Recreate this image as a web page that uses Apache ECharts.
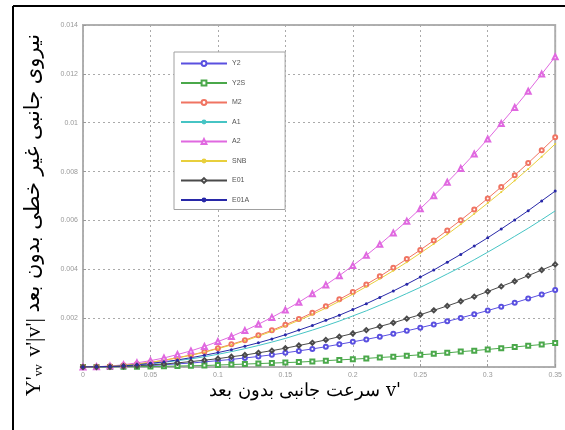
<!DOCTYPE html>
<html>
<head>
<meta charset="utf-8">
<script src="https://cdn.jsdelivr.net/npm/echarts@6/dist/echarts.min.js"></script>
<style>
html, body { margin: 0; padding: 0; background: #fff; }
#chart { width: 565px; height: 430px; }
</style>
</head>
<body>
<div id="chart"></div>
<script>
// سرعت جانبی بدون بعد (v')
var vel = [0, 0.01, 0.02, 0.03, 0.04, 0.05, 0.06, 0.07, 0.08, 0.09, 0.10, 0.11, 0.12,
    0.13, 0.14, 0.15, 0.16, 0.17, 0.18, 0.19, 0.20, 0.21, 0.22, 0.23, 0.24, 0.25,
    0.26, 0.27, 0.28, 0.29, 0.30, 0.31, 0.32, 0.33, 0.34, 0.35];

var Y2 = [0, 0, 0.00001, 0.00002, 0.00004, 0.00006, 0.00009, 0.00013, 0.00016, 0.00021, 0.00026, 0.00031,
    0.00037, 0.00043, 0.00050, 0.00058, 0.00066, 0.00074, 0.00083, 0.00093, 0.00103, 0.00113, 0.00124,
    0.00136, 0.00148, 0.00161, 0.00174, 0.00187, 0.00201, 0.00216, 0.00231, 0.00247, 0.00263, 0.00280,
    0.00297, 0.00315];
var Y2S = [0, 0, 0, 0.00001, 0.00001, 0.00002, 0.00003, 0.00004, 0.00005, 0.00006, 0.00008, 0.00010,
    0.00012, 0.00014, 0.00016, 0.00018, 0.00020, 0.00023, 0.00026, 0.00029, 0.00032, 0.00035, 0.00039,
    0.00042, 0.00046, 0.00050, 0.00054, 0.00058, 0.00063, 0.00067, 0.00072, 0.00077, 0.00082, 0.00087,
    0.00092, 0.00098];
var M2 = [0, 0.00001, 0.00003, 0.00007, 0.00012, 0.00019, 0.00028, 0.00038, 0.00049, 0.00062, 0.00077,
    0.00093, 0.00110, 0.00130, 0.00150, 0.00173, 0.00196, 0.00222, 0.00249, 0.00277, 0.00307, 0.00338,
    0.00371, 0.00406, 0.00442, 0.00479, 0.00518, 0.00559, 0.00601, 0.00645, 0.00690, 0.00737, 0.00785,
    0.00835, 0.00887, 0.00940];
var A1 = [0, 0.00001, 0.00002, 0.00005, 0.00008, 0.00013, 0.00019, 0.00026, 0.00033, 0.00042, 0.00052,
    0.00063, 0.00075, 0.00088, 0.00102, 0.00117, 0.00134, 0.00151, 0.00169, 0.00188, 0.00209, 0.00230,
    0.00253, 0.00276, 0.00301, 0.00326, 0.00353, 0.00381, 0.00409, 0.00439, 0.00470, 0.00502, 0.00535,
    0.00568, 0.00603, 0.00639];
var A2 = [0, 0.00001, 0.00004, 0.00009, 0.00017, 0.00026, 0.00037, 0.00051, 0.00066, 0.00084, 0.00104,
    0.00125, 0.00149, 0.00175, 0.00203, 0.00233, 0.00265, 0.00300, 0.00336, 0.00374, 0.00415, 0.00457,
    0.00502, 0.00549, 0.00597, 0.00648, 0.00701, 0.00756, 0.00813, 0.00872, 0.00933, 0.00997, 0.01062,
    0.01129, 0.01199, 0.01270];
var SNB = [0, 0.00001, 0.00003, 0.00007, 0.00012, 0.00019, 0.00027, 0.00037, 0.00048, 0.00060, 0.00075,
    0.00090, 0.00107, 0.00126, 0.00146, 0.00168, 0.00191, 0.00215, 0.00241, 0.00269, 0.00298, 0.00329,
    0.00361, 0.00394, 0.00429, 0.00466, 0.00504, 0.00543, 0.00584, 0.00627, 0.00671, 0.00716, 0.00763,
    0.00811, 0.00861, 0.00913];
var E01 = [0, 0, 0.00001, 0.00003, 0.00005, 0.00009, 0.00012, 0.00017, 0.00022, 0.00028, 0.00034, 0.00042,
    0.00049, 0.00058, 0.00067, 0.00077, 0.00088, 0.00099, 0.00111, 0.00124, 0.00137, 0.00151, 0.00166,
    0.00181, 0.00198, 0.00214, 0.00232, 0.00250, 0.00269, 0.00288, 0.00309, 0.00330, 0.00351, 0.00374,
    0.00397, 0.00420];
var E01A = [0, 0.00001, 0.00002, 0.00005, 0.00009, 0.00015, 0.00021, 0.00029, 0.00038, 0.00048, 0.00059,
    0.00071, 0.00085, 0.00099, 0.00115, 0.00132, 0.00151, 0.00170, 0.00191, 0.00212, 0.00235, 0.00259,
    0.00285, 0.00311, 0.00339, 0.00368, 0.00397, 0.00429, 0.00461, 0.00495, 0.00529, 0.00565, 0.00602,
    0.00640, 0.00680, 0.00720];

var names = ['Y2', 'Y2S', 'M2', 'A1', 'A2', 'SNB', 'E01', 'E01A'];
var values = [Y2, Y2S, M2, A1, A2, SNB, E01, E01A];
var colors = ['#5a50e0', '#4aa84a', '#f07462', '#46c4c4', '#e068e0', '#e8cf3c', '#4a4a4a', '#2828a8'];
var symbols = ['emptyCircle', 'emptyRect', 'emptyCircle', 'none', 'emptyTriangle', 'circle', 'emptyDiamond', 'circle'];
var symbolSizes = [4, 4, 4, 0, 5, 2, 4, 3];

function pairs(arr) {
    return vel.map(function (v, i) { return [v, arr[i]]; });
}

var seriesList = names.map(function (n, i) {
    return {
        name: n,
        type: 'line',
        data: pairs(values[i]),
        color: colors[i],
        symbol: symbols[i],
        symbolSize: symbolSizes[i],
        showSymbol: symbols[i] !== 'none',
        lineStyle: { width: 1 },
        itemStyle: { borderWidth: 1 },
        animation: false
    };
});

var chart = echarts.init(document.getElementById('chart'));
chart.setOption({
    animation: false,
    grid: {
        left: 83, right: 8, top: 25, bottom: 63,
        show: true, borderColor: '#b0b0b0', borderWidth: 2
    },
    legend: {
        orient: 'vertical',
        left: 174, top: 52,
        data: names,
        itemWidth: 46, itemHeight: 6, itemGap: 12.5,
        padding: [8, 36, 6, 6],
        backgroundColor: '#fff',
        borderColor: '#a0a0a0',
        borderWidth: 1,
        textStyle: { fontSize: 7, color: '#555' }
    },
    xAxis: {
        type: 'value',
        min: 0, max: 0.35, interval: 0.05,
        axisLine: { show: false },
        axisTick: { inside: true, length: 3, lineStyle: { color: '#999' } },
        axisLabel: { fontSize: 7, color: '#999', margin: 5 },
        splitLine: { lineStyle: { color: '#aaa', type: [2, 3] } }
    },
    yAxis: {
        type: 'value',
        min: 0, max: 0.014, interval: 0.002,
        axisLine: { show: false },
        axisTick: { inside: true, length: 3, lineStyle: { color: '#999' } },
        axisLabel: { fontSize: 7, color: '#999', margin: 5, showMinLabel: false },
        splitLine: { lineStyle: { color: '#aaa', type: [2, 3] } }
    },
    graphic: [
        { type: 'line', shape: { x1: 13, y1: 6, x2: 565, y2: 6 }, style: { stroke: '#000', lineWidth: 2 } },
        { type: 'line', shape: { x1: 13, y1: 6, x2: 13, y2: 430 }, style: { stroke: '#000', lineWidth: 2 } },
        {
            type: 'text', x: 305, y: 391,
            style: {
                text: "سرعت جانبی بدون بعد v'",
                font: '18px "DejaVu Serif", serif',
                fill: '#000', align: 'center', verticalAlign: 'middle'
            }
        },
        {
            type: 'text', x: 34, y: 215, rotation: Math.PI / 2,
            style: {
                text: "{f|Y'}{s|vv}{f| v'|v'| }{p|نیروی جانبی غیر خطی بدون بعد}",
                align: 'center', verticalAlign: 'middle',
                rich: {
                    f: { fontSize: 22, fontFamily: 'Liberation Serif, serif', fill: '#000' },
                    s: { fontSize: 12, fontFamily: 'Liberation Serif, serif', fill: '#000', verticalAlign: 'bottom', padding: [9, 2, 0, 0] },
                    p: { fontSize: 21, fontFamily: 'DejaVu Sans, sans-serif', fill: '#000' }
                }
            }
        }
    ],
    series: seriesList
});
</script>
</body>
</html>
